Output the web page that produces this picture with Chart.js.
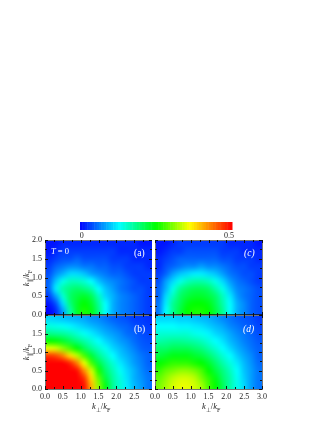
<!DOCTYPE html>
<html>
<head>
<meta charset="utf-8">
<script src="https://cdn.jsdelivr.net/npm/chart.js@4"></script>
<style>
  html, body { margin: 0; padding: 0; background: #fff; }
  #wrap { position: relative; width: 332px; height: 430px; overflow: hidden; font-family: "Liberation Serif", serif; }
  canvas { position: absolute; }
  .txt { position: absolute; white-space: nowrap; font-size: 8.5px; line-height: 10px; color: #222; }
  .txt sub { font-size: 6px; line-height: 0; }
  .lab { color: #fff; font-size: 9.5px; }
</style>
</head>
<body>
<div id="wrap">
  <canvas id="bar" width="172" height="22" style="left:70px;top:218px"></canvas>
  <canvas id="pa" width="152" height="95" style="left:0;top:230px"></canvas>
  <canvas id="pc" width="118" height="95" style="left:146px;top:230px"></canvas>
  <canvas id="pb" width="152" height="90" style="left:0;top:315px"></canvas>
  <canvas id="pd" width="126" height="90" style="left:146px;top:315px"></canvas>
  <span class="txt lab" style="left:134px;top:248px">(a)</span>
  <span class="txt lab" style="left:244px;top:248px"><i>(c)</i></span>
  <span class="txt lab" style="left:134px;top:324px">(b)</span>
  <span class="txt lab" style="left:243px;top:324px"><i>(d)</i></span>
  <span class="txt" style="left:51px;top:246px;color:#fff"><i>T</i> = 0</span>
  <span class="txt" style="left:92px;top:401px"><i>k</i><sub>⊥</sub>/<i>k</i><sub>F</sub></span>
  <span class="txt" style="left:202px;top:401px"><i>k</i><sub>⊥</sub>/<i>k</i><sub>F</sub></span>
  <span class="txt" style="left:26px;top:278px;transform:translate(-50%,-50%) rotate(-90deg)"><i>k</i><sub>∥</sub>/<i>k</i><sub>F</sub></span>
  <span class="txt" style="left:26px;top:352px;transform:translate(-50%,-50%) rotate(-90deg)"><i>k</i><sub>∥</sub>/<i>k</i><sub>F</sub></span>
</div>
<script>
// cell centres, k_perp and k_par
const kPerp = [0.1, 0.3, 0.5, 0.7, 0.9, 1.1, 1.3, 1.5, 1.7, 1.9, 2.1, 2.3, 2.5, 2.7, 2.9];
const kPar = [0.1, 0.3, 0.5, 0.7, 0.9, 1.1, 1.3, 1.5, 1.7, 1.9];

// values, one row per kPar
const panelA = [
  [.00, .02, .08, .17, .23, .26, .24, .19, .13, .09, .07, .06, .05, .04, .03],
  [.01, .04, .11, .19, .23, .25, .23, .18, .13, .09, .07, .06, .05, .04, .03],
  [.03, .08, .15, .20, .22, .23, .21, .16, .11, .09, .07, .06, .05, .04, .03],
  [.05, .12, .17, .19, .20, .19, .17, .13, .10, .08, .06, .05, .04, .04, .03],
  [.05, .10, .14, .16, .16, .15, .13, .10, .08, .07, .06, .05, .04, .03, .03],
  [.04, .07, .09, .11, .11, .10, .08, .07, .06, .05, .05, .04, .03, .03, .03],
  [.03, .05, .06, .07, .07, .06, .06, .05, .05, .04, .04, .03, .03, .03, .02],
  [.02, .03, .04, .04, .05, .04, .04, .04, .04, .03, .03, .03, .02, .02, .02],
  [.01, .02, .03, .03, .03, .03, .03, .03, .03, .03, .02, .02, .02, .02, .02],
  [.01, .01, .02, .02, .02, .02, .02, .02, .02, .02, .02, .02, .02, .01, .01],
];
const panelB = [
  [.50, .50, .50, .50, .50, .49, .40, .31, .24, .18, .15, .12, .095, .08, .06],
  [.50, .50, .50, .50, .50, .47, .38, .29, .22, .175, .145, .115, .09, .075, .06],
  [.50, .50, .50, .50, .49, .42, .34, .26, .20, .165, .135, .11, .09, .07, .055],
  [.50, .50, .50, .48, .43, .35, .28, .22, .18, .15, .12, .10, .08, .065, .05],
  [.47, .46, .43, .38, .33, .28, .225, .185, .155, .13, .105, .09, .075, .06, .05],
  [.35, .34, .31, .28, .245, .21, .18, .155, .135, .11, .095, .08, .065, .05, .045],
  [.25, .245, .23, .21, .19, .17, .15, .13, .11, .095, .08, .07, .055, .045, .04],
  [.185, .18, .175, .165, .15, .135, .12, .105, .09, .08, .07, .055, .05, .04, .035],
  [.145, .14, .135, .125, .115, .105, .095, .085, .075, .065, .055, .05, .04, .035, .03],
  [.11, .105, .10, .095, .09, .085, .075, .07, .06, .05, .045, .04, .03, .03, .025],
];
const panelC = [
  [.06, .13, .18, .22, .25, .26, .26, .25, .22, .18, .13, .09, .07, .05, .04],
  [.06, .12, .18, .21, .24, .25, .25, .24, .21, .17, .13, .09, .07, .05, .04],
  [.05, .11, .16, .20, .22, .23, .23, .22, .20, .16, .12, .08, .06, .05, .04],
  [.05, .09, .14, .18, .20, .21, .21, .20, .17, .14, .10, .07, .06, .05, .04],
  [.04, .08, .11, .14, .16, .17, .17, .16, .14, .11, .08, .06, .05, .04, .03],
  [.03, .05, .08, .10, .11, .12, .12, .11, .10, .08, .06, .05, .04, .04, .03],
  [.02, .04, .05, .06, .07, .07, .08, .07, .07, .06, .05, .04, .04, .03, .03],
  [.02, .03, .04, .05, .05, .05, .05, .05, .05, .04, .04, .03, .03, .03, .02],
  [.01, .02, .03, .03, .04, .04, .04, .04, .04, .03, .03, .03, .02, .02, .02],
  [.01, .01, .02, .03, .03, .03, .03, .03, .03, .03, .02, .02, .02, .02, .01],
];
const panelD = [
  [.30, .32, .34, .35, .35, .34, .32, .28, .25, .21, .17, .14, .11, .08, .06],
  [.29, .31, .33, .34, .34, .33, .30, .27, .24, .20, .17, .135, .105, .08, .06],
  [.27, .29, .30, .31, .31, .30, .28, .25, .22, .19, .16, .13, .10, .08, .06],
  [.25, .26, .27, .27, .27, .26, .25, .23, .20, .17, .145, .12, .095, .075, .055],
  [.22, .23, .24, .24, .24, .23, .22, .20, .175, .15, .13, .105, .085, .07, .05],
  [.20, .20, .21, .21, .21, .20, .19, .17, .15, .13, .11, .09, .075, .06, .05],
  [.17, .175, .18, .18, .175, .17, .16, .145, .13, .115, .095, .08, .065, .055, .045],
  [.15, .15, .15, .15, .15, .14, .135, .125, .11, .10, .085, .07, .06, .05, .04],
  [.13, .13, .13, .125, .125, .12, .115, .105, .095, .085, .07, .06, .05, .045, .035],
  [.11, .11, .11, .105, .105, .10, .095, .09, .08, .07, .06, .05, .045, .04, .03],
];

const xTicks = [0, 0.25, 0.5, 0.75, 1, 1.25, 1.5, 1.75, 2, 2.25, 2.5, 2.75, 3];
const yTicks = [0, 0.25, 0.5, 0.75, 1, 1.25, 1.5, 1.75, 2];
const colorbarTicks = [0.006, 0.49];
const colorbarLabels = ['0', '0.5'];

const colorStops = [
  [0, 0, 0, 255],
  [0.13, 0, 255, 255],
  [0.25, 0, 255, 0],
  [0.36, 255, 255, 0],
  [0.5, 255, 0, 0],
];

function colorFor(v) {
  for (let i = 1; i < colorStops.length; i++) {
    const a = colorStops[i - 1], b = colorStops[i];
    if (v <= b[0]) {
      const t = (v - a[0]) / (b[0] - a[0]);
      return [1, 2, 3].map(k => Math.round(a[k] + (b[k] - a[k]) * t));
    }
  }
  return colorStops[colorStops.length - 1].slice(1);
}

// paints the cells, then a smoothed copy of the same cells on top
const heatPlugin = {
  id: 'heat',
  beforeDatasetsDraw(chart) {
    const { ctx, scales: { x, y } } = chart;
    const points = chart.data.datasets[0].data;
    const off = document.createElement('canvas');
    off.width = kPerp.length;
    off.height = kPar.length;
    const octx = off.getContext('2d');
    points.forEach(p => {
      const c = colorFor(p.v);
      const col = 'rgb(' + c.join(',') + ')';
      const x0 = x.getPixelForValue(p.x - 0.1), x1 = x.getPixelForValue(p.x + 0.1);
      const y0 = y.getPixelForValue(p.y + 0.1), y1 = y.getPixelForValue(p.y - 0.1);
      ctx.fillStyle = col;
      ctx.fillRect(x0, y0, x1 - x0, y1 - y0);
      octx.fillStyle = col;
      octx.fillRect(kPerp.indexOf(p.x), kPar.length - 1 - kPar.indexOf(p.y), 1, 1);
    });
    ctx.save();
    ctx.imageSmoothingEnabled = true;
    ctx.imageSmoothingQuality = 'high';
    const left = x.getPixelForValue(0), top = y.getPixelForValue(2);
    ctx.drawImage(off, left, top, x.getPixelForValue(3) - left, y.getPixelForValue(0) - top);
    ctx.restore();
  },
  afterDraw(chart) {
    const { ctx, chartArea: a, scales: { x, y } } = chart;
    ctx.save();
    ctx.strokeStyle = '#777';
    ctx.strokeRect(a.left + 0.5, a.top + 0.5, a.right - a.left, a.bottom - a.top);
    ctx.strokeStyle = '#111';
    ctx.lineWidth = 1;
    ctx.beginPath();
    xTicks.forEach((t, i) => {
      const px = Math.round(x.getPixelForValue(t)) + 0.5;
      const len = i % 2 ? 2 : 3;
      ctx.moveTo(px, a.bottom); ctx.lineTo(px, a.bottom - len);
      ctx.moveTo(px, a.top); ctx.lineTo(px, a.top + len);
    });
    yTicks.forEach((t, i) => {
      const py = Math.round(y.getPixelForValue(t)) + 0.5;
      const len = i % 2 ? 2 : 3;
      ctx.moveTo(a.left, py); ctx.lineTo(a.left + len, py);
      ctx.moveTo(a.right, py); ctx.lineTo(a.right - len, py);
    });
    ctx.stroke();
    if (!x.options.display) {
      // the two rows share a heavy black line
      ctx.lineWidth = 1.5;
      ctx.beginPath();
      ctx.moveTo(a.left, a.bottom);
      ctx.lineTo(a.right + 1, a.bottom);
      ctx.stroke();
    }
    ctx.restore();
  },
};

function toPoints(rows) {
  const pts = [];
  rows.forEach((row, j) => row.forEach((v, i) => pts.push({ x: kPerp[i], y: kPar[j], v })));
  return pts;
}

function makePanel(id, rows, opts) {
  return new Chart(document.getElementById(id), {
    type: 'scatter',
    data: { datasets: [{ data: toPoints(rows), pointRadius: 0 }] },
    plugins: [heatPlugin],
    options: {
      responsive: false,
      animation: false,
      layout: { padding: opts.padding },
      plugins: { legend: { display: false }, tooltip: { enabled: false } },
      scales: {
        x: {
          type: 'linear', min: 0, max: 3,
          display: opts.showX,
          grid: { display: false, drawTicks: false },
          border: { display: false },
          afterBuildTicks: s => { s.ticks = xTicks.map(value => ({ value })); },
          afterFit: s => {
            s.height = opts.showX ? 13 : 0;
            s.paddingLeft = 0; s.paddingRight = 0;
          },
          ticks: {
            autoSkip: false, maxRotation: 0, padding: 3, color: '#222',
            font: { family: 'Liberation Serif', size: 8 },
            callback: v => (v * 2) % 1 === 0 && v <= opts.xMax ? v.toFixed(1) : '',
          },
        },
        y: {
          type: 'linear', min: 0, max: 2,
          display: opts.showY,
          grid: { display: false, drawTicks: false },
          border: { display: false },
          afterBuildTicks: s => { s.ticks = yTicks.map(value => ({ value })); },
          afterFit: s => {
            s.width = opts.showY ? 45 : 0;
            s.paddingTop = 0; s.paddingBottom = 0;
          },
          ticks: {
            autoSkip: false, padding: 3, color: '#222',
            font: { family: 'Liberation Serif', size: 8 },
            callback: v => (v * 2) % 1 === 0 && v <= opts.yMax ? v.toFixed(1) : '',
          },
        },
      },
    },
  });
}

makePanel('pa', panelA, { padding: { top: 10, right: 0, bottom: 10, left: 0 }, showX: false, showY: true, xMax: 3, yMax: 2 });
makePanel('pc', panelC, { padding: { top: 10, right: 2, bottom: 10, left: 9 }, showX: false, showY: false, xMax: 3, yMax: 2 });
makePanel('pb', panelB, { padding: { top: 0, right: 0, bottom: 3, left: 0 }, showX: true, showY: true, xMax: 2.5, yMax: 1.5 });
makePanel('pd', panelD, { padding: { top: 0, right: 10, bottom: 3, left: 9 }, showX: true, showY: false, xMax: 3, yMax: 1.5 });

// colour bar
new Chart(document.getElementById('bar'), {
  type: 'scatter',
  data: { datasets: [{ data: [], pointRadius: 0 }] },
  plugins: [{
    id: 'colorbar',
    beforeDatasetsDraw(chart) {
      const { ctx, chartArea: a, scales: { x } } = chart;
      for (let i = 0; i < 64; i++) {
        const x0 = x.getPixelForValue(i / 128), x1 = x.getPixelForValue((i + 1) / 128);
        ctx.fillStyle = 'rgb(' + colorFor((i + 0.5) / 128).join(',') + ')';
        ctx.fillRect(x0, a.top, x1 - x0 + 0.5, a.bottom - a.top);
      }
    },
  }],
  options: {
    responsive: false,
    animation: false,
    layout: { padding: { left: 10, right: 10, top: 4, bottom: 0 } },
    plugins: { legend: { display: false }, tooltip: { enabled: false } },
    scales: {
      x: {
        type: 'linear', min: 0, max: 0.5,
        grid: { display: false, drawTicks: false },
        border: { display: false },
        afterBuildTicks: s => { s.ticks = colorbarTicks.map(value => ({ value })); },
        afterFit: s => { s.height = 10; s.paddingLeft = 0; s.paddingRight = 0; },
        ticks: {
          autoSkip: false, maxRotation: 0, padding: 1, color: '#222',
          font: { family: 'Liberation Serif', size: 8 },
          callback: (v, i) => colorbarLabels[i],
        },
      },
      y: { display: false },
    },
  },
});
</script>
</body>
</html>
